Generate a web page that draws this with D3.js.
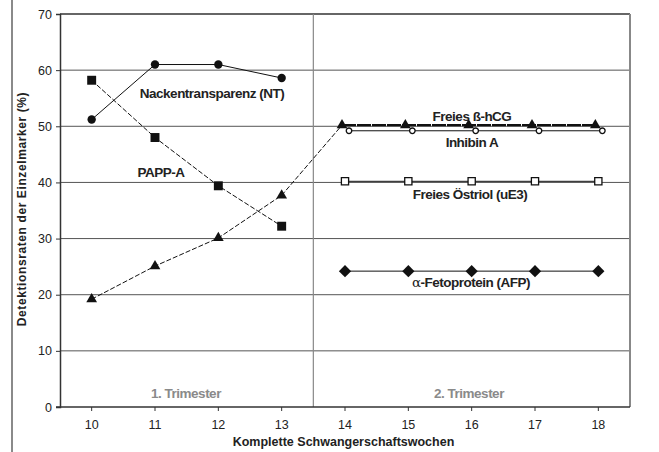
<!DOCTYPE html>
<html><head><meta charset="utf-8">
<script src="https://cdn.jsdelivr.net/npm/d3@7/dist/d3.min.js"></script>
<style>
html,body{margin:0;padding:0;background:#fff;}
svg text{font-family:"Liberation Sans",Arial,sans-serif;}
</style></head><body>
<svg id="c" width="659" height="452"></svg>
<script>
const weeks = [10,11,12,13,14,15,16,17,18];
const yTicks = [0,10,20,30,40,50,60,70];
const ntWeeks = [10,11,12,13];
const ntValues = [51.2,61,61,58.6];
const pappWeeks = [10,11,12,13];
const pappValues = [58.2,48,39.4,32.2];
const hcg1Weeks = [10,11,12,13,14];
const hcg1Values = [19.2,25.1,30.1,37.7,50.2];
const hcg2Weeks = [14,15,16,17,18];
const hcg2Values = [50.2,50.2,50.2,50.2,50.2];
const inhibinWeeks = [14,15,16,17,18];
const inhibinValues = [49.2,49.2,49.2,49.2,49.2];
const estriolWeeks = [14,15,16,17,18];
const estriolValues = [40.2,40.2,40.2,40.2,40.2];
const afpWeeks = [14,15,16,17,18];
const afpValues = [24.2,24.2,24.2,24.2,24.2];

const svg = d3.select("#c");
const L=60, R=630, T=14, B=407;
const x = d3.scaleBand().domain(weeks).range([L,R]);
const cx = w => x(w)+x.bandwidth()/2;
const y = d3.scaleLinear().domain([0,70]).range([B,T]);
const FF = '"Liberation Sans", Arial, sans-serif';

// outer left border
svg.append("line").attr("x1",12).attr("x2",12).attr("y1",0).attr("y2",452).attr("stroke","#8a8a8a").attr("stroke-width",2);

// gridlines
svg.append("g").selectAll("line").data(yTicks.filter(d=>d>0)).join("line")
  .attr("x1",L).attr("x2",R).attr("y1",d=>y(d)).attr("y2",d=>y(d))
  .attr("stroke",d=>d===70?"#333":"#555").attr("stroke-width",d=>d===70?1.5:1);
// right border
svg.append("line").attr("x1",R).attr("x2",R).attr("y1",T).attr("y2",B).attr("stroke","#888").attr("stroke-width",2);
// divider
const divX = x(14);
svg.append("line").attr("x1",divX).attr("x2",divX).attr("y1",T).attr("y2",B).attr("stroke","#888").attr("stroke-width",1.2);

// axes
const yAxis = d3.axisLeft(y).tickValues(yTicks).tickSize(4).tickPadding(4);
const gy = svg.append("g").attr("transform",`translate(${L},0)`).call(yAxis);
gy.select(".domain").attr("stroke","#333").attr("stroke-width",1.5);
gy.selectAll(".tick line").attr("stroke","#333");
gy.selectAll("text").style("font-size","12.5px").attr("fill","#222").style("font-family",FF);

const xAxis = d3.axisBottom(x).tickSize(4).tickPadding(9);
const gx = svg.append("g").attr("transform",`translate(0,${B})`).call(xAxis);
gx.select(".domain").attr("stroke","#333").attr("stroke-width",1.5).attr("d",`M${L-4},0H${R}`);
gx.selectAll(".tick line").attr("stroke","#333");
gx.selectAll("text").style("font-size","12.5px").attr("fill","#222").style("font-family",FF);

// lines
function series(ws, vs, dx){ return ws.map((w,i)=>[cx(w)+(dx||0), y(vs[i])]); }
const line = d3.line();
function drawLine(pts, opts){
  svg.append("path").attr("d",line(pts)).attr("fill","none")
    .attr("stroke",opts.color||"#111").attr("stroke-width",opts.w||1)
    .attr("stroke-dasharray",opts.dash||null);
}
const hcgDx=-3, inhDx=4;
drawLine(series(ntWeeks,ntValues),{w:1});
drawLine(series(pappWeeks,pappValues),{w:1,dash:"5,2"});
const h1 = series(hcg1Weeks,hcg1Values); h1[h1.length-1][0]+=hcgDx;
drawLine(h1,{w:1,dash:"5,2"});
drawLine(series(hcg2Weeks,hcg2Values,hcgDx),{w:2.2,dash:"14,1"});
drawLine(series(inhibinWeeks,inhibinValues,inhDx),{w:1});
drawLine(series(estriolWeeks,estriolValues),{w:1});
drawLine(series(afpWeeks,afpValues),{w:1});

// markers
const sym = (type,size)=>d3.symbol().type(type).size(size)();
function markers(pts,type,size,fill,stroke,rot){
  svg.append("g").selectAll("path").data(pts).join("path")
    .attr("transform",d=>`translate(${d[0]},${d[1]}) rotate(${rot||0})`)
    .attr("d",sym(type,size)).attr("fill",fill).attr("stroke",stroke||"none").attr("stroke-width",1.3);
}
markers(series(ntWeeks,ntValues),d3.symbolCircle,55,"#111");
markers(series(pappWeeks,pappValues),d3.symbolSquare,80,"#111");
markers(series(hcg1Weeks.slice(0,4),hcg1Values.slice(0,4)),d3.symbolTriangle,50,"#111");
markers(series(hcg2Weeks,hcg2Values,hcgDx),d3.symbolTriangle,50,"#111");
markers(series(inhibinWeeks,inhibinValues,inhDx),d3.symbolCircle,24,"#fff","#111");
markers(series(estriolWeeks,estriolValues),d3.symbolSquare,52,"#fff","#111");
markers(series(afpWeeks,afpValues),d3.symbolSquare,75,"#111",null,45);

// labels
function label(t,xx,yy,opts){
  return svg.append("text").attr("x",xx).attr("y",yy).attr("text-anchor","middle")
    .attr("dominant-baseline","central").style("font-size",(opts.size||13.5)+"px")
    .attr("font-weight",opts.weight||"bold").attr("fill",opts.color||"#222")
    .attr("letter-spacing",opts.ls!=null?opts.ls:-0.5).text(t);
}
label("Nackentransparenz (NT)",212,93,{});
label("PAPP-A",161,172,{});
label("Freies ß-hCG",472,116,{});
label("Inhibin A",472,142,{});
label("Freies Östriol (uE3)",470,194,{});
const afp = svg.append("text").attr("x",471).attr("y",282).attr("text-anchor","middle")
  .attr("dominant-baseline","central").style("font-size","13.5px").attr("font-weight","bold").attr("fill","#222").attr("letter-spacing",-0.5);
afp.append("tspan").style("font-family","'DejaVu Serif', serif").attr("font-weight","normal").text("α");
afp.append("tspan").text("-Fetoprotein (AFP)");
label("1. Trimester",186,393,{color:"#8a8a8a"});
label("2. Trimester",469,393,{color:"#8a8a8a"});
label("Komplette Schwangerschaftswochen",343.5,442,{size:12.5,ls:0});
svg.append("text").attr("transform","translate(22,209) rotate(-90)").attr("text-anchor","middle")
  .attr("dominant-baseline","central").style("font-size","12px").attr("font-weight","bold").attr("fill","#222")
  .attr("letter-spacing",0.6).text("Detektionsraten der Einzelmarker (%)");
</script>
</body></html>
